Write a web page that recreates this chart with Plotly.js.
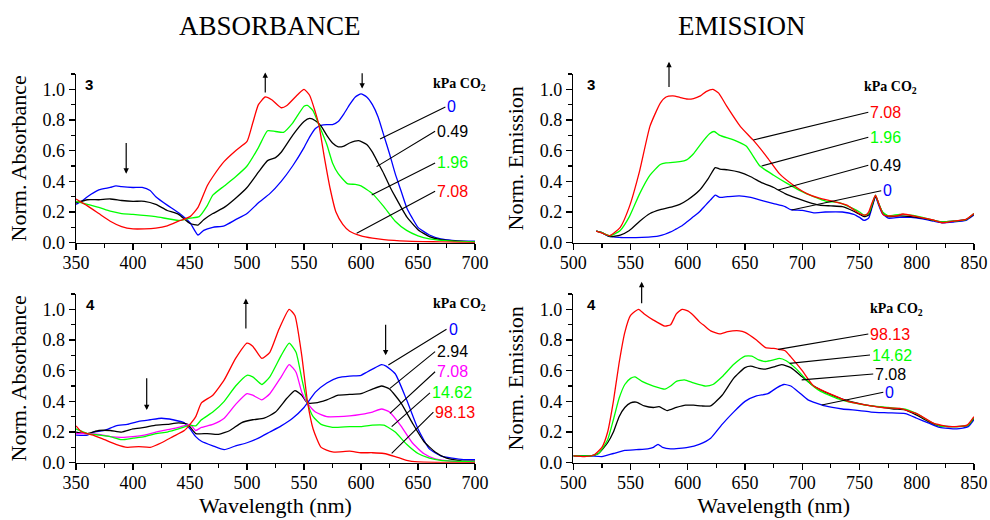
<!DOCTYPE html>
<html><head><meta charset="utf-8">
<script src="https://cdn.plot.ly/plotly-3.0.1.min.js"></script>
<style>html,body{margin:0;padding:0;background:#fff}#chart{width:990px;height:520px}</style>
</head><body><div id="chart"></div>
<script>
// ---------- Panel 3 absorbance (kPa CO2: 0, 0.49, 1.96, 7.08) ----------
const abs3Labels = ['0', '0.49', '1.96', '7.08'];
const abs3Wl_0 = [350,355,360,370,380,385,390,400,408,415,420,430,440,450,457,462,470,480,490,500,510,520,530,540,550,555,560,565,570,575,580,585,590,595,600,605,610,615,620,625,630,635,640,645,650,660,670,680,690,700];
const abs3_0   = [0.25,0.27,0.3,0.345,0.36,0.37,0.365,0.36,0.36,0.34,0.3,0.245,0.195,0.13,0.05,0.08,0.1,0.11,0.15,0.19,0.26,0.32,0.4,0.5,0.62,0.69,0.745,0.765,0.77,0.77,0.79,0.84,0.9,0.95,0.97,0.95,0.9,0.82,0.7,0.58,0.45,0.34,0.23,0.16,0.1,0.05,0.025,0.015,0.01,0.01];
const abs3Wl_049 = [350,360,370,380,390,400,410,420,430,440,450,457,462,470,480,490,500,510,518,525,530,540,550,555,560,565,570,575,580,585,590,598,605,610,615,620,625,630,640,650,660,670,685,700];
const abs3_049   = [0.26,0.28,0.28,0.285,0.275,0.27,0.27,0.25,0.21,0.185,0.125,0.115,0.15,0.19,0.23,0.29,0.36,0.46,0.535,0.555,0.59,0.7,0.79,0.81,0.795,0.76,0.7,0.65,0.625,0.63,0.65,0.665,0.64,0.59,0.52,0.45,0.37,0.3,0.17,0.085,0.04,0.02,0.01,0.005];
const abs3Wl_196 = [350,360,370,380,390,400,420,440,450,458,465,470,480,490,500,510,518,525,532,540,550,553,558,563,570,575,580,588,595,600,610,620,630,640,650,660,680,700];
const abs3_196   = [0.27,0.25,0.23,0.205,0.19,0.185,0.17,0.145,0.16,0.17,0.24,0.31,0.37,0.43,0.5,0.62,0.73,0.725,0.72,0.78,0.89,0.895,0.86,0.77,0.64,0.52,0.45,0.385,0.38,0.37,0.32,0.235,0.14,0.08,0.045,0.025,0.01,0.005];
const abs3Wl_708 = [350,360,370,380,390,400,410,420,430,440,450,457,465,470,480,490,500,505,510,516,522,530,535,545,550,555,560,563,568,573,578,584,590,600,610,620,640,670,700];
const abs3_708   = [0.285,0.24,0.19,0.14,0.105,0.09,0.09,0.095,0.11,0.14,0.17,0.23,0.37,0.43,0.53,0.6,0.66,0.78,0.9,0.95,0.93,0.88,0.895,0.97,1.0,0.96,0.85,0.77,0.55,0.35,0.2,0.12,0.075,0.045,0.03,0.02,0.01,0.005,0.0];

// ---------- Panel 3 emission ----------
const em3Labels = ['0', '0.49', '1.96', '7.08'];
const em3Wl_0 = [520,525,530,540,550,560,570,575,580,585,590,595,600,605,610,615,620,624,628,635,645,655,665,675,685,690,700,710,720,735,745,750,754,758,761,764,767,770,775,785,795,805,815,822,832,843,850];
const em3_0   = [0.075,0.065,0.045,0.035,0.033,0.035,0.04,0.045,0.055,0.07,0.09,0.11,0.14,0.17,0.2,0.24,0.28,0.31,0.295,0.3,0.305,0.295,0.275,0.255,0.235,0.215,0.21,0.195,0.2,0.2,0.185,0.165,0.145,0.16,0.23,0.3,0.24,0.19,0.16,0.165,0.165,0.155,0.14,0.13,0.135,0.145,0.18];
const em3Wl_049 = [520,525,532,541,549,558,567,576,587,593,600,610,618,624,628,635,645,655,665,675,685,695,705,715,725,735,745,750,754,758,761,764,767,770,775,785,795,805,815,822,832,843,850];
const em3_049   = [0.075,0.065,0.04,0.05,0.08,0.14,0.19,0.215,0.235,0.25,0.28,0.34,0.42,0.49,0.48,0.475,0.46,0.43,0.39,0.36,0.32,0.29,0.265,0.245,0.24,0.235,0.205,0.185,0.17,0.18,0.24,0.305,0.25,0.2,0.17,0.175,0.17,0.16,0.145,0.135,0.14,0.15,0.185];
const em3Wl_196 = [520,525,532,541,549,558,567,576,581,593,599,605,611,619,623,628,640,651,663,675,686,698,710,721,733,745,750,754,758,761,764,767,770,775,785,795,805,815,822,832,843,850];
const em3_196   = [0.075,0.065,0.045,0.08,0.17,0.32,0.44,0.51,0.52,0.528,0.54,0.58,0.64,0.71,0.725,0.7,0.67,0.63,0.5,0.44,0.39,0.34,0.3,0.27,0.26,0.22,0.2,0.18,0.19,0.25,0.31,0.25,0.2,0.175,0.185,0.18,0.165,0.145,0.135,0.14,0.15,0.19];
const em3Wl_708 = [520,526,532,541,549,558,567,576,581,587,593,599,605,611,616,622,627,634,646,657,669,680,692,704,715,727,739,750,755,758,761,764,767,771,782,788,800,814,822,832,843,850];
const em3_708   = [0.075,0.06,0.046,0.1,0.235,0.47,0.76,0.91,0.95,0.957,0.948,0.937,0.94,0.957,0.985,1.0,0.975,0.89,0.757,0.67,0.56,0.45,0.376,0.32,0.29,0.27,0.245,0.19,0.18,0.2,0.26,0.31,0.25,0.18,0.174,0.187,0.17,0.148,0.13,0.14,0.152,0.19];

// ---------- Panel 4 absorbance (kPa CO2: 0, 2.94, 7.08, 14.62, 98.13) ----------
const abs4Labels = ['0', '2.94', '7.08', '14.62', '98.13'];
const abs4Wl_0 = [350,360,365,375,385,395,405,415,425,435,445,450,455,460,470,480,490,500,510,520,530,540,550,555,560,570,580,590,600,605,610,618,622,630,640,650,660,670,680,690,700];
const abs4_0   = [0.18,0.18,0.2,0.21,0.24,0.25,0.27,0.28,0.29,0.28,0.26,0.22,0.17,0.14,0.11,0.085,0.11,0.13,0.16,0.2,0.24,0.29,0.36,0.41,0.46,0.52,0.555,0.565,0.57,0.59,0.61,0.64,0.63,0.58,0.41,0.22,0.09,0.045,0.03,0.02,0.02];
const abs4Wl_294 = [350,360,370,380,390,400,410,420,430,440,448,455,465,475,485,495,505,515,525,535,542,548,553,560,570,580,590,600,610,618,625,635,645,655,665,675,690,700];
const abs4_294   = [0.2,0.19,0.21,0.21,0.2,0.22,0.23,0.245,0.25,0.26,0.25,0.19,0.19,0.185,0.21,0.26,0.28,0.29,0.33,0.42,0.47,0.44,0.39,0.39,0.41,0.44,0.445,0.45,0.48,0.5,0.48,0.39,0.26,0.14,0.07,0.03,0.01,0.01];
const abs4Wl_708 = [350,360,370,380,390,400,410,420,430,440,450,455,460,470,480,490,500,505,513,520,530,537,543,548,553,560,570,580,590,600,610,618,625,635,645,655,665,680,700];
const abs4_708   = [0.19,0.19,0.185,0.17,0.165,0.17,0.18,0.2,0.215,0.23,0.25,0.21,0.23,0.25,0.29,0.38,0.45,0.44,0.41,0.45,0.56,0.64,0.59,0.46,0.39,0.33,0.3,0.3,0.305,0.315,0.33,0.35,0.33,0.24,0.13,0.06,0.025,0.01,0.005];
const abs4Wl_1462 = [350,360,370,380,390,400,410,420,430,440,450,455,460,470,480,490,500,505,513,520,530,537,543,548,553,558,565,575,590,600,610,620,630,640,650,660,670,700];
const abs4_1462   = [0.22,0.19,0.18,0.17,0.15,0.16,0.17,0.19,0.2,0.22,0.245,0.24,0.28,0.33,0.4,0.5,0.57,0.56,0.51,0.56,0.7,0.78,0.72,0.55,0.39,0.3,0.25,0.23,0.235,0.235,0.245,0.245,0.2,0.12,0.06,0.03,0.015,0.005];
const abs4Wl_9813 = [350,355,365,375,385,395,405,415,425,435,445,450,455,460,470,480,490,500,505,513,520,528,537,542,548,553,558,565,575,590,600,610,620,630,640,650,700];
const abs4_9813   = [0.24,0.2,0.18,0.15,0.12,0.1,0.105,0.1,0.13,0.17,0.21,0.25,0.3,0.39,0.44,0.54,0.68,0.78,0.76,0.68,0.72,0.87,1.0,0.96,0.7,0.4,0.22,0.1,0.07,0.075,0.065,0.065,0.06,0.04,0.015,0.005,0.0];

// ---------- Panel 4 emission (kPa CO2: 0, 7.08, 14.62, 98.13) ----------
const em4Labels = ['0', '7.08', '14.62', '98.13'];
const em4Wl_0 = [500,515,525,535,545,555,565,570,574,578,585,600,610,620,630,640,650,660,670,678,684,690,697,705,720,735,750,760,775,790,800,810,820,835,845,850];
const em4_0   = [0.045,0.045,0.04,0.06,0.08,0.085,0.09,0.1,0.12,0.1,0.09,0.1,0.12,0.16,0.25,0.33,0.4,0.435,0.45,0.49,0.51,0.5,0.46,0.41,0.37,0.35,0.34,0.33,0.325,0.32,0.29,0.26,0.23,0.22,0.235,0.28];
const em4Wl_708 = [500,515,522,530,535,540,545,550,555,562,570,575,582,590,598,605,612,620,630,640,650,655,662,668,675,682,690,700,710,720,735,750,765,780,790,800,810,820,835,845,850];
const em4_708   = [0.045,0.045,0.06,0.13,0.2,0.3,0.36,0.39,0.395,0.37,0.36,0.365,0.34,0.36,0.375,0.375,0.37,0.37,0.44,0.55,0.62,0.63,0.615,0.61,0.625,0.64,0.62,0.56,0.5,0.46,0.415,0.385,0.365,0.35,0.345,0.31,0.27,0.24,0.235,0.245,0.29];
const em4Wl_1462 = [500,515,522,530,535,540,545,550,554,560,570,580,585,590,597,605,615,622,630,640,650,656,662,668,675,680,686,695,705,715,730,745,760,775,790,800,810,820,835,845,850];
const em4_1462   = [0.045,0.045,0.06,0.15,0.28,0.42,0.51,0.55,0.56,0.53,0.5,0.48,0.5,0.53,0.54,0.52,0.5,0.51,0.56,0.64,0.695,0.695,0.67,0.66,0.67,0.68,0.665,0.61,0.53,0.47,0.42,0.39,0.37,0.36,0.35,0.32,0.275,0.24,0.235,0.245,0.295];
const em4Wl_9813 = [500,510,518,525,530,535,540,545,550,557,562,570,580,585,590,595,600,605,610,615,620,628,635,645,650,660,668,675,680,685,690,700,710,727,740,756,770,785,800,815,829,844,850];
const em4_9813   = [0.045,0.04,0.05,0.1,0.2,0.4,0.65,0.85,0.96,1.0,0.97,0.93,0.89,0.9,0.97,1.0,0.99,0.96,0.92,0.89,0.86,0.84,0.855,0.86,0.85,0.8,0.75,0.745,0.738,0.73,0.69,0.6,0.5,0.44,0.4,0.376,0.36,0.354,0.32,0.256,0.235,0.245,0.3];

const BLUE = '#0000ff', BLACK = '#000000', GREEN = '#00ff00', RED = '#ff0000', MAGENTA = '#ff00ff';
const SERIF = 'Liberation Serif';
const SANS = 'Liberation Sans';

function tr(x, y, name, color, ax) {
  return {x: x, y: y, name: name, type: 'scatter', mode: 'lines',
    line: {color: color, width: 1.3, shape: 'spline', smoothing: 0.5},
    xaxis: 'x' + ax, yaxis: 'y' + ax, showlegend: false, hoverinfo: 'skip'};
}
const data = [
  tr(abs3Wl_0, abs3_0, abs3Labels[0], BLUE, ''),
  tr(abs3Wl_049, abs3_049, abs3Labels[1], BLACK, ''),
  tr(abs3Wl_196, abs3_196, abs3Labels[2], GREEN, ''),
  tr(abs3Wl_708, abs3_708, abs3Labels[3], RED, ''),
  tr(em3Wl_0, em3_0, em3Labels[0], BLUE, '2'),
  tr(em3Wl_049, em3_049, em3Labels[1], BLACK, '2'),
  tr(em3Wl_196, em3_196, em3Labels[2], GREEN, '2'),
  tr(em3Wl_708, em3_708, em3Labels[3], RED, '2'),
  tr(abs4Wl_0, abs4_0, abs4Labels[0], BLUE, '3'),
  tr(abs4Wl_294, abs4_294, abs4Labels[1], BLACK, '3'),
  tr(abs4Wl_708, abs4_708, abs4Labels[2], MAGENTA, '3'),
  tr(abs4Wl_1462, abs4_1462, abs4Labels[3], GREEN, '3'),
  tr(abs4Wl_9813, abs4_9813, abs4Labels[4], RED, '3'),
  tr(em4Wl_0, em4_0, em4Labels[0], BLUE, '4'),
  tr(em4Wl_708, em4_708, em4Labels[1], BLACK, '4'),
  tr(em4Wl_1462, em4_1462, em4Labels[2], GREEN, '4'),
  tr(em4Wl_9813, em4_9813, em4Labels[3], RED, '4')
];

function xax(dom, range, anchor, title) {
  const a = {domain: dom, range: range, anchor: anchor, dtick: 50, tick0: 0,
    ticks: 'outside', ticklen: 6, tickwidth: 1.3, tickcolor: '#000', ticklabelstandoff: -3,
    minor: {dtick: 25, ticks: 'outside', ticklen: 3.5, tickwidth: 1.2, tickcolor: '#000'},
    showline: true, linewidth: 1.4, linecolor: '#000', showgrid: false, zeroline: false,
    tickfont: {family: SERIF, size: 18, color: '#000'}};
  if (title) a.title = {text: title, font: {family: SERIF, size: 22, color: '#000'}, standoff: 0};
  return a;
}
function yax(dom, anchor, title) {
  return {domain: dom, range: [0, 1.1], anchor: anchor, dtick: 0.2, tick0: 0, tickformat: '.1f',
    ticks: 'outside', ticklen: 6, tickwidth: 1.3, tickcolor: '#000',
    minor: {dtick: 0.1, ticks: 'outside', ticklen: 3.5, tickwidth: 1.2, tickcolor: '#000'},
    showline: true, linewidth: 1.4, linecolor: '#000', showgrid: false, zeroline: false,
    tickfont: {family: SERIF, size: 18, color: '#000'},
    title: {text: title, font: {family: SERIF, size: 22, color: '#000'}, standoff: 10}};
}

const XL = [0.0768, 0.4798], XR = [0.5791, 0.9838];
const YT = [0.5333, 0.8577], YB = [0.1102, 0.4346];

function lab(ref, txt, color, hx, hy, tx, ty) {
  return {xref: 'x' + ref, yref: 'y' + ref, axref: 'x' + ref, ayref: 'y' + ref,
    x: hx, y: hy, ax: tx, ay: ty, text: txt, showarrow: true, arrowhead: 0,
    arrowwidth: 1.1, arrowcolor: '#000', xanchor: 'left', yanchor: 'middle',
    font: {family: SANS, size: 16, color: color}};
}
function arr(ref, x, y0, y1) {
  return {xref: 'x' + ref, yref: 'y' + ref, axref: 'x' + ref, ayref: 'y' + ref,
    x: x, y: y1, ax: x, ay: y0, text: '', showarrow: true, arrowhead: 2,
    arrowsize: 0.9, arrowwidth: 1.2, arrowcolor: '#000'};
}
function txt(ref, x, y, t, font, anchor) {
  return {xref: 'x' + ref, yref: 'y' + ref, x: x, y: y, text: t, showarrow: false,
    xanchor: anchor || 'left', yanchor: 'middle', font: font};
}
const kpaFont = {family: SERIF, size: 14, color: '#000', weight: 'bold'};
const numFont = {family: SANS, size: 15, color: '#000', weight: 'bold'};
const kpa = '<b>kPa CO<sub>2</sub></b>';

const annotations = [
  {xref: 'paper', yref: 'paper', x: 0.2727, y: 0.95, xanchor: 'center', yanchor: 'middle',
    text: 'ABSORBANCE', showarrow: false, font: {family: SERIF, size: 27, color: '#000'}},
  {xref: 'paper', yref: 'paper', x: 0.7495, y: 0.95, xanchor: 'center', yanchor: 'middle',
    text: 'EMISSION', showarrow: false, font: {family: SERIF, size: 27, color: '#000'}},
  // panel 1
  txt('', 356, 1.03, '<b>3</b>', numFont),
  txt('', 661, 1.03, kpa, kpaFont),
  lab('', abs3Labels[0], BLUE, 616.7, 0.676, 674, 0.885),
  lab('', abs3Labels[1], BLACK, 613.7, 0.496, 665, 0.727),
  lab('', abs3Labels[2], GREEN, 609.4, 0.311, 665, 0.52),
  lab('', abs3Labels[3], RED, 596.2, 0.061, 665, 0.335),
  arr('', 394, 0.66, 0.45),
  arr('', 516, 0.97, 1.11),
  arr('', 601, 1.115, 1.005),
  // panel 2
  txt('2', 510, 1.03, '<b>3</b>', numFont),
  txt('2', 752, 1.01, kpa, kpaFont),
  lab('2', em3Labels[3], RED, 657.3, 0.67, 757.7, 0.85),
  lab('2', em3Labels[2], GREEN, 664.5, 0.5, 757.7, 0.687),
  lab('2', em3Labels[1], BLACK, 679, 0.343, 757.7, 0.505),
  lab('2', em3Labels[0], BLUE, 690.7, 0.213, 769, 0.339),
  arr('2', 583.6, 1.005, 1.18),
  // panel 3
  txt('3', 357, 1.03, '<b>4</b>', numFont),
  txt('3', 661, 1.03, kpa, kpaFont),
  lab('3', abs4Labels[0], BLUE, 624, 0.637, 675, 0.87),
  lab('3', abs4Labels[1], BLACK, 625.4, 0.485, 665, 0.724),
  lab('3', abs4Labels[2], MAGENTA, 625.4, 0.322, 665, 0.593),
  lab('3', abs4Labels[3], GREEN, 626.9, 0.235, 660.5, 0.455),
  lab('3', abs4Labels[4], RED, 626.9, 0.061, 663.5, 0.33),
  arr('3', 412, 0.56, 0.343),
  arr('3', 499, 0.865, 1.07),
  arr('3', 621.6, 0.909, 0.70),
  // panel 4
  txt('4', 510, 1.03, '<b>4</b>', numFont),
  txt('4', 757.7, 1.0, kpa, kpaFont),
  lab('4', em4Labels[3], RED, 679, 0.739, 757.7, 0.839),
  lab('4', em4Labels[2], GREEN, 689, 0.648, 759.2, 0.702),
  lab('4', em4Labels[1], BLACK, 699.5, 0.54, 762, 0.578),
  lab('4', em4Labels[0], BLUE, 717, 0.376, 770.8, 0.459),
  arr('4', 559.7, 1.03, 1.18)
];

const layout = {
  width: 990, height: 520, margin: {l: 0, r: 0, t: 0, b: 0},
  font: {family: SERIF, size: 18, color: '#000'},
  paper_bgcolor: '#fff', plot_bgcolor: '#fff', showlegend: false,
  xaxis: xax(XL, [350, 700], 'y'),
  yaxis: yax(YT, 'x', 'Norm. Absorbance'),
  xaxis2: xax(XR, [500, 850], 'y2'),
  yaxis2: yax(YT, 'x2', 'Norm. Emission'),
  xaxis3: xax(XL, [350, 700], 'y3', 'Wavelength (nm)'),
  yaxis3: yax(YB, 'x3', 'Norm. Absorbance'),
  xaxis4: xax(XR, [500, 850], 'y4', 'Wavelength (nm)'),
  yaxis4: yax(YB, 'x4', 'Norm. Emission'),
  annotations: annotations
};
Plotly.newPlot('chart', data, layout, {staticPlot: true, displayModeBar: false});
</script>
</body></html>
